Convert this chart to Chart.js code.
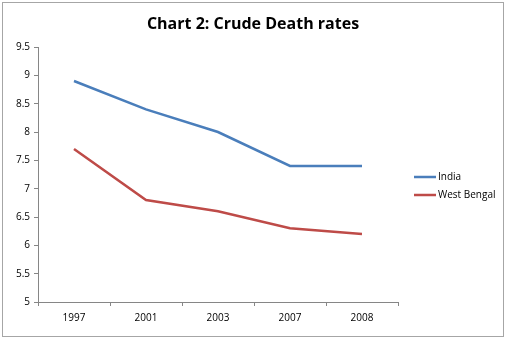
<!DOCTYPE html>
<html><head><meta charset="utf-8">
<script src="https://cdn.jsdelivr.net/npm/chart.js@4/dist/chart.umd.min.js"></script>
<style>html,body{margin:0;padding:0;background:#fff}#wrap{width:506px;height:339px;position:relative}</style>
</head><body><div id="wrap"><canvas id="c" width="506" height="339"></canvas></div>
<script>
const categories = ["1997", "2001", "2003", "2007", "2008"];
const india = [8.9, 8.4, 8.0, 7.4, 7.4];
const westBengal = [7.7, 6.8, 6.6, 6.3, 6.2];
const seriesNames = ["India", "West Bengal"];
const titleText = "Chart 2: Crude Death rates";

const FONT = "'Open Sans', 'Liberation Sans', sans-serif";

const decor = {
  id: 'decor',
  beforeDraw(chart) {
    const ctx = chart.ctx;
    ctx.save();
    ctx.fillStyle = '#fff';
    ctx.fillRect(0, 0, chart.width, chart.height);
    ctx.strokeStyle = '#a6a6a6';
    ctx.lineWidth = 1;
    ctx.strokeRect(2.5, 2.5, 501, 334);
    ctx.restore();
  },
  afterDraw(chart) {
    const ctx = chart.ctx;
    ctx.save();
    ctx.fillStyle = '#000';
    ctx.font = "bold 16px " + FONT;
    ctx.textAlign = 'center';
    ctx.textBaseline = 'middle';
    ctx.fillText(titleText, 253, 24);
    ctx.font = "10px " + FONT;
    ctx.textAlign = 'left';
    const ys = [177, 195];
    chart.data.datasets.forEach((ds, i) => {
      ctx.strokeStyle = ds.borderColor;
      ctx.lineWidth = 2.5;
      ctx.beginPath();
      ctx.moveTo(414, ys[i]);
      ctx.lineTo(436, ys[i]);
      ctx.stroke();
      ctx.fillStyle = '#000';
      ctx.fillText(ds.label, 438, ys[i]);
    });
    ctx.restore();
  }
};

new Chart(document.getElementById('c'), {
  type: 'line',
  data: {
    labels: categories,
    datasets: [
      { label: seriesNames[0], data: india, borderColor: '#4A7EBB', backgroundColor: '#4A7EBB', borderWidth: 2.5, pointRadius: 0, tension: 0 },
      { label: seriesNames[1], data: westBengal, borderColor: '#BE4B48', backgroundColor: '#BE4B48', borderWidth: 2.5, pointRadius: 0, tension: 0 }
    ]
  },
  options: {
    responsive: false,
    animation: false,
    devicePixelRatio: 1,
    layout: { padding: { left: 0, top: 47, right: 108, bottom: 0 } },
    plugins: { legend: { display: false }, title: { display: false }, tooltip: { enabled: false } },
    scales: {
      x: {
        offset: true,
        grid: { offset: true, drawOnChartArea: false, drawTicks: true, tickLength: 4, color: '#868686' },
        border: { color: '#868686' },
        ticks: { color: '#000', font: { family: FONT, size: 10 }, padding: 6, maxRotation: 0 },
        afterFit(s) { s.height = 37; }
      },
      y: {
        min: 5, max: 9.5,
        grid: { drawOnChartArea: false, drawTicks: true, tickLength: 4, color: '#868686' },
        border: { color: '#868686' },
        ticks: { stepSize: 0.5, color: '#000', font: { family: FONT, size: 10 }, padding: 4,
          callback: v => String(parseFloat(Number(v).toFixed(2))) },
        afterFit(s) { s.width = 38; }
      }
    }
  },
  plugins: [decor]
});
</script></body></html>
